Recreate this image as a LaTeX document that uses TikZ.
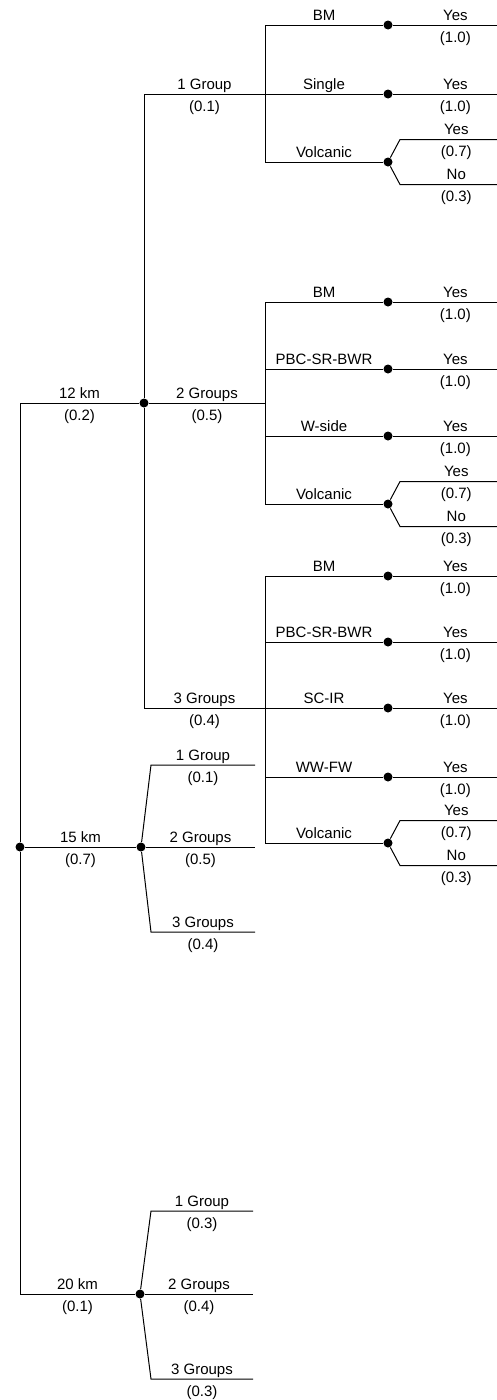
\documentclass[tikz,border=0pt]{standalone}
\usepackage{fontspec}
\setmainfont{Liberation Sans}
\newcommand{\treefont}{\fontsize{15}{17}\selectfont}
\tikzset{
  chance/.style = {circle,fill=black,inner sep=0pt,minimum size=9pt},
  lab/.style    = {above=0.5pt,font=\treefont,inner sep=1pt,
                   text height=10.7pt,text depth=3pt},
  prob/.style   = {below=5pt,font=\treefont,inner sep=1pt,
                   text height=10.7pt,text depth=3pt},
}

\begin{document}
\begin{tikzpicture}[x=1pt,y=-1pt,line width=1pt]
  \useasboundingbox (0,0) rectangle (497,1400);
  \coordinate (rim) at (497,0);

  % distance
  \node[chance] (root) at (20,847) {};
  \node[chance] (d12) at (144,403) {};
  \node[chance] (d15) at (141,847) {};
  \node[chance] (d20) at (140,1294) {};
  \draw (root) |- (d12) node[lab,pos=0.75]{12 km} node[prob,pos=0.75]{(0.2)};
  \draw (root) -- (d15) node[lab,midway]{15 km} node[prob,midway]{(0.7)};
  \draw (root) |- (d20) node[lab,pos=0.75]{20 km} node[prob,pos=0.75]{(0.1)};

  % groups, 12 km
  \coordinate (g1) at (265,94);
  \coordinate (g2) at (265,403);
  \coordinate (g3) at (265,708);
  \draw (d12) |- (g1) node[lab,pos=0.75]{1 Group} node[prob,pos=0.75]{(0.1)};
  \draw (d12) -- (g2) node[lab,midway]{2 Groups} node[prob,midway]{(0.5)};
  \draw (d12) |- (g3) node[lab,pos=0.75]{3 Groups} node[prob,pos=0.75]{(0.4)};

  % groups, 15 km and 20 km
  \draw (d15) -- (151,765) coordinate (k1) -- (k1 -| 255,0) coordinate (e1)
        node[lab,midway]{1 Group} node[prob,midway]{(0.1)};
  \draw (d15) -- (e1 |- d15) node[lab,midway]{2 Groups} node[prob,midway]{(0.5)};
  \draw (d15) -- (151,932) coordinate (k3) -- (k3 -| e1)
        node[lab,midway]{3 Groups} node[prob,midway]{(0.4)};
  \draw (d20) -- (151,1211) coordinate (m1) -- (m1 -| 253,0) coordinate (f1)
        node[lab,midway]{1 Group} node[prob,midway]{(0.3)};
  \draw (d20) -- (f1 |- d20) node[lab,midway]{2 Groups} node[prob,midway]{(0.4)};
  \draw (d20) -- (151,1379) coordinate (m3) -- (m3 -| f1)
        node[lab,midway]{3 Groups} node[prob,midway]{(0.3)};

  % sources, 1 group
  \node[chance] (bm1) at (388,25) {};
  \node[chance] (sg1) at (388,94) {};
  \node[chance] (vo1) at (388,162) {};
  \draw (g1) |- (bm1) node[lab,pos=0.75]{BM};
  \draw (g1) -- (sg1) node[lab,midway]{Single};
  \draw (g1) |- (vo1) node[lab,pos=0.75]{Volcanic};

  % sources, 2 groups
  \node[chance] (bm2) at (388,302) {};
  \node[chance] (pbc2) at (388,369) {};
  \node[chance] (ws2) at (388,436) {};
  \node[chance] (vo2) at (388,504) {};
  \draw (g2) |- (bm2) node[lab,pos=0.75]{BM};
  \draw (g2) |- (pbc2) node[lab,pos=0.75]{PBC-SR-BWR};
  \draw (g2) |- (ws2) node[lab,pos=0.75]{W-side};
  \draw (g2) |- (vo2) node[lab,pos=0.75]{Volcanic};

  % sources, 3 groups
  \node[chance] (bm3) at (388,576) {};
  \node[chance] (pbc3) at (388,642) {};
  \node[chance] (sc3) at (388,708) {};
  \node[chance] (ww3) at (388,777) {};
  \node[chance] (vo3) at (388,843) {};
  \draw (g3) |- (bm3) node[lab,pos=0.75]{BM};
  \draw (g3) |- (pbc3) node[lab,pos=0.75]{PBC-SR-BWR};
  \draw (g3) -- (sc3) node[lab,midway]{SC-IR};
  \draw (g3) |- (ww3) node[lab,pos=0.75]{WW-FW};
  \draw (g3) |- (vo3) node[lab,pos=0.75]{Volcanic};

  % outcomes
  \draw (bm1) -- (bm1 -| rim) node[lab,pos=0.6]{Yes} node[prob,pos=0.6]{(1.0)};
  \draw (sg1) -- (sg1 -| rim) node[lab,pos=0.6]{Yes} node[prob,pos=0.6]{(1.0)};
  \draw (bm2) -- (bm2 -| rim) node[lab,pos=0.6]{Yes} node[prob,pos=0.6]{(1.0)};
  \draw (pbc2) -- (pbc2 -| rim) node[lab,pos=0.6]{Yes} node[prob,pos=0.6]{(1.0)};
  \draw (ws2) -- (ws2 -| rim) node[lab,pos=0.6]{Yes} node[prob,pos=0.6]{(1.0)};
  \draw (bm3) -- (bm3 -| rim) node[lab,pos=0.6]{Yes} node[prob,pos=0.6]{(1.0)};
  \draw (pbc3) -- (pbc3 -| rim) node[lab,pos=0.6]{Yes} node[prob,pos=0.6]{(1.0)};
  \draw (sc3) -- (sc3 -| rim) node[lab,pos=0.6]{Yes} node[prob,pos=0.6]{(1.0)};
  \draw (ww3) -- (ww3 -| rim) node[lab,pos=0.6]{Yes} node[prob,pos=0.6]{(1.0)};

  % volcanic outcomes
  \draw (vo1) -- ++(12,-22.5) coordinate (vy1) -- (vy1 -| rim)
        node[lab,pos=0.58]{Yes} node[prob,pos=0.58]{(0.7)};
  \draw (vo1) -- ++(12,22.5) coordinate (vn1) -- (vn1 -| rim)
        node[lab,pos=0.58]{No} node[prob,pos=0.58]{(0.3)};
  \draw (vo2) -- ++(12,-22.5) coordinate (vy2) -- (vy2 -| rim)
        node[lab,pos=0.58]{Yes} node[prob,pos=0.58]{(0.7)};
  \draw (vo2) -- ++(12,22.5) coordinate (vn2) -- (vn2 -| rim)
        node[lab,pos=0.58]{No} node[prob,pos=0.58]{(0.3)};
  \draw (vo3) -- ++(12,-22.5) coordinate (vy3) -- (vy3 -| rim)
        node[lab,pos=0.58]{Yes} node[prob,pos=0.58]{(0.7)};
  \draw (vo3) -- ++(12,22.5) coordinate (vn3) -- (vn3 -| rim)
        node[lab,pos=0.58]{No} node[prob,pos=0.58]{(0.3)};
\end{tikzpicture}
\end{document}
